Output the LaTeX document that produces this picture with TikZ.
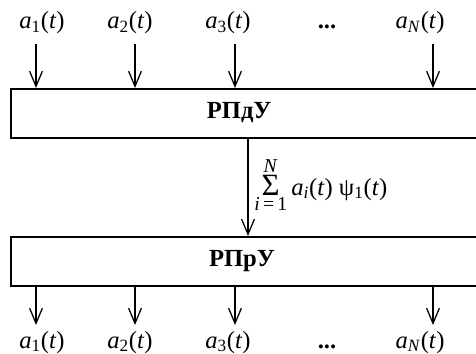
\documentclass[tikz,border=0pt]{standalone}
\usepackage{fontspec}
\setmainfont{Liberation Serif}
\usetikzlibrary{positioning, arrows.meta}

\newcommand{\sgn}[1]{\textit{a}\textsubscript{#1}(\textit{t})}

\tikzset{blk/.style={draw, line width=1.6pt, anchor=north west, minimum width=13cm, minimum height=1.225cm, inner sep=0pt},
         sig/.style={-{Straight Barb[length=0.38cm, width=0.32cm]}, line width=0.9pt},
         lbl/.style={anchor=base, inner sep=0pt}}

\begin{document}
\begin{tikzpicture}[font=\fontsize{17.5}{21}\selectfont]

        \useasboundingbox (0,0) rectangle (11.9,8.825);

        % Blocks
        \node[blk] (rpdu) at (0.25,6.625) {};
        \node[blk] (rpru) at (0.25,2.925) {};
        \node (rpdut) at (5.98,6.0) {\textbf{РПдУ}};
        \node (rprut) at (6.05,2.3) {\textbf{РПрУ}};

        % Input signals
        \node[lbl] (x1) at (1.05,8.1) {\sgn{1}};
        \node[lbl] (x2) at (3.25,8.1) {\sgn{2}};
        \node[lbl] (x3) at (5.7,8.1) {\sgn{3}};
        \node[lbl] (xd) at (8.175,8.1) {\textbf{...}};
        \node[lbl] (xN) at (10.5,8.1) {\sgn{\textit{N}}};

        \coordinate (in1) at (0.9,7.725);
        \coordinate (in2) at (3.375,7.725);
        \coordinate (in3) at (5.875,7.725);
        \coordinate (inN) at (10.825,7.725);

        \draw[sig] (in1) -- (in1 |- rpdu.north);
        \draw[sig] (in2) -- (in2 |- rpdu.north);
        \draw[sig] (in3) -- (in3 |- rpdu.north);
        \draw[sig] (inN) -- (inN |- rpdu.north);

        % Channel
        \coordinate (ch) at (6.2,0);
        \draw[sig] (ch |- rpdu.south) -- node[right, inner sep=0pt, xshift=4pt, yshift=2pt]
            {$\mathop{\mbox{\fontsize{22}{22}\selectfont Σ}}\limits_{\mbox{\fontsize{14}{14}\selectfont\textit{i}\,=\,1}}^{\mbox{\fontsize{14}{14}\selectfont\textit{N}}}$\,\sgn{\textit{i}} ψ\textsubscript{1}(\textit{t})} (ch |- rpru.north);

        % Output signals
        \coordinate (out1) at (0.9,0.7);
        \coordinate (out2) at (3.375,0.7);
        \coordinate (out3) at (5.875,0.7);
        \coordinate (outN) at (10.825,0.7);

        \draw[sig] (out1 |- rpru.south) -- (out1);
        \draw[sig] (out2 |- rpru.south) -- (out2);
        \draw[sig] (out3 |- rpru.south) -- (out3);
        \draw[sig] (outN |- rpru.south) -- (outN);

        \node[lbl] (y1) at (1.05,0.125) {\sgn{1}};
        \node[lbl] (y2) at (3.25,0.125) {\sgn{2}};
        \node[lbl] (y3) at (5.7,0.125) {\sgn{3}};
        \node[lbl] (yd) at (8.175,0.125) {\textbf{...}};
        \node[lbl] (yN) at (10.5,0.125) {\sgn{\textit{N}}};

\end{tikzpicture}
\end{document}
